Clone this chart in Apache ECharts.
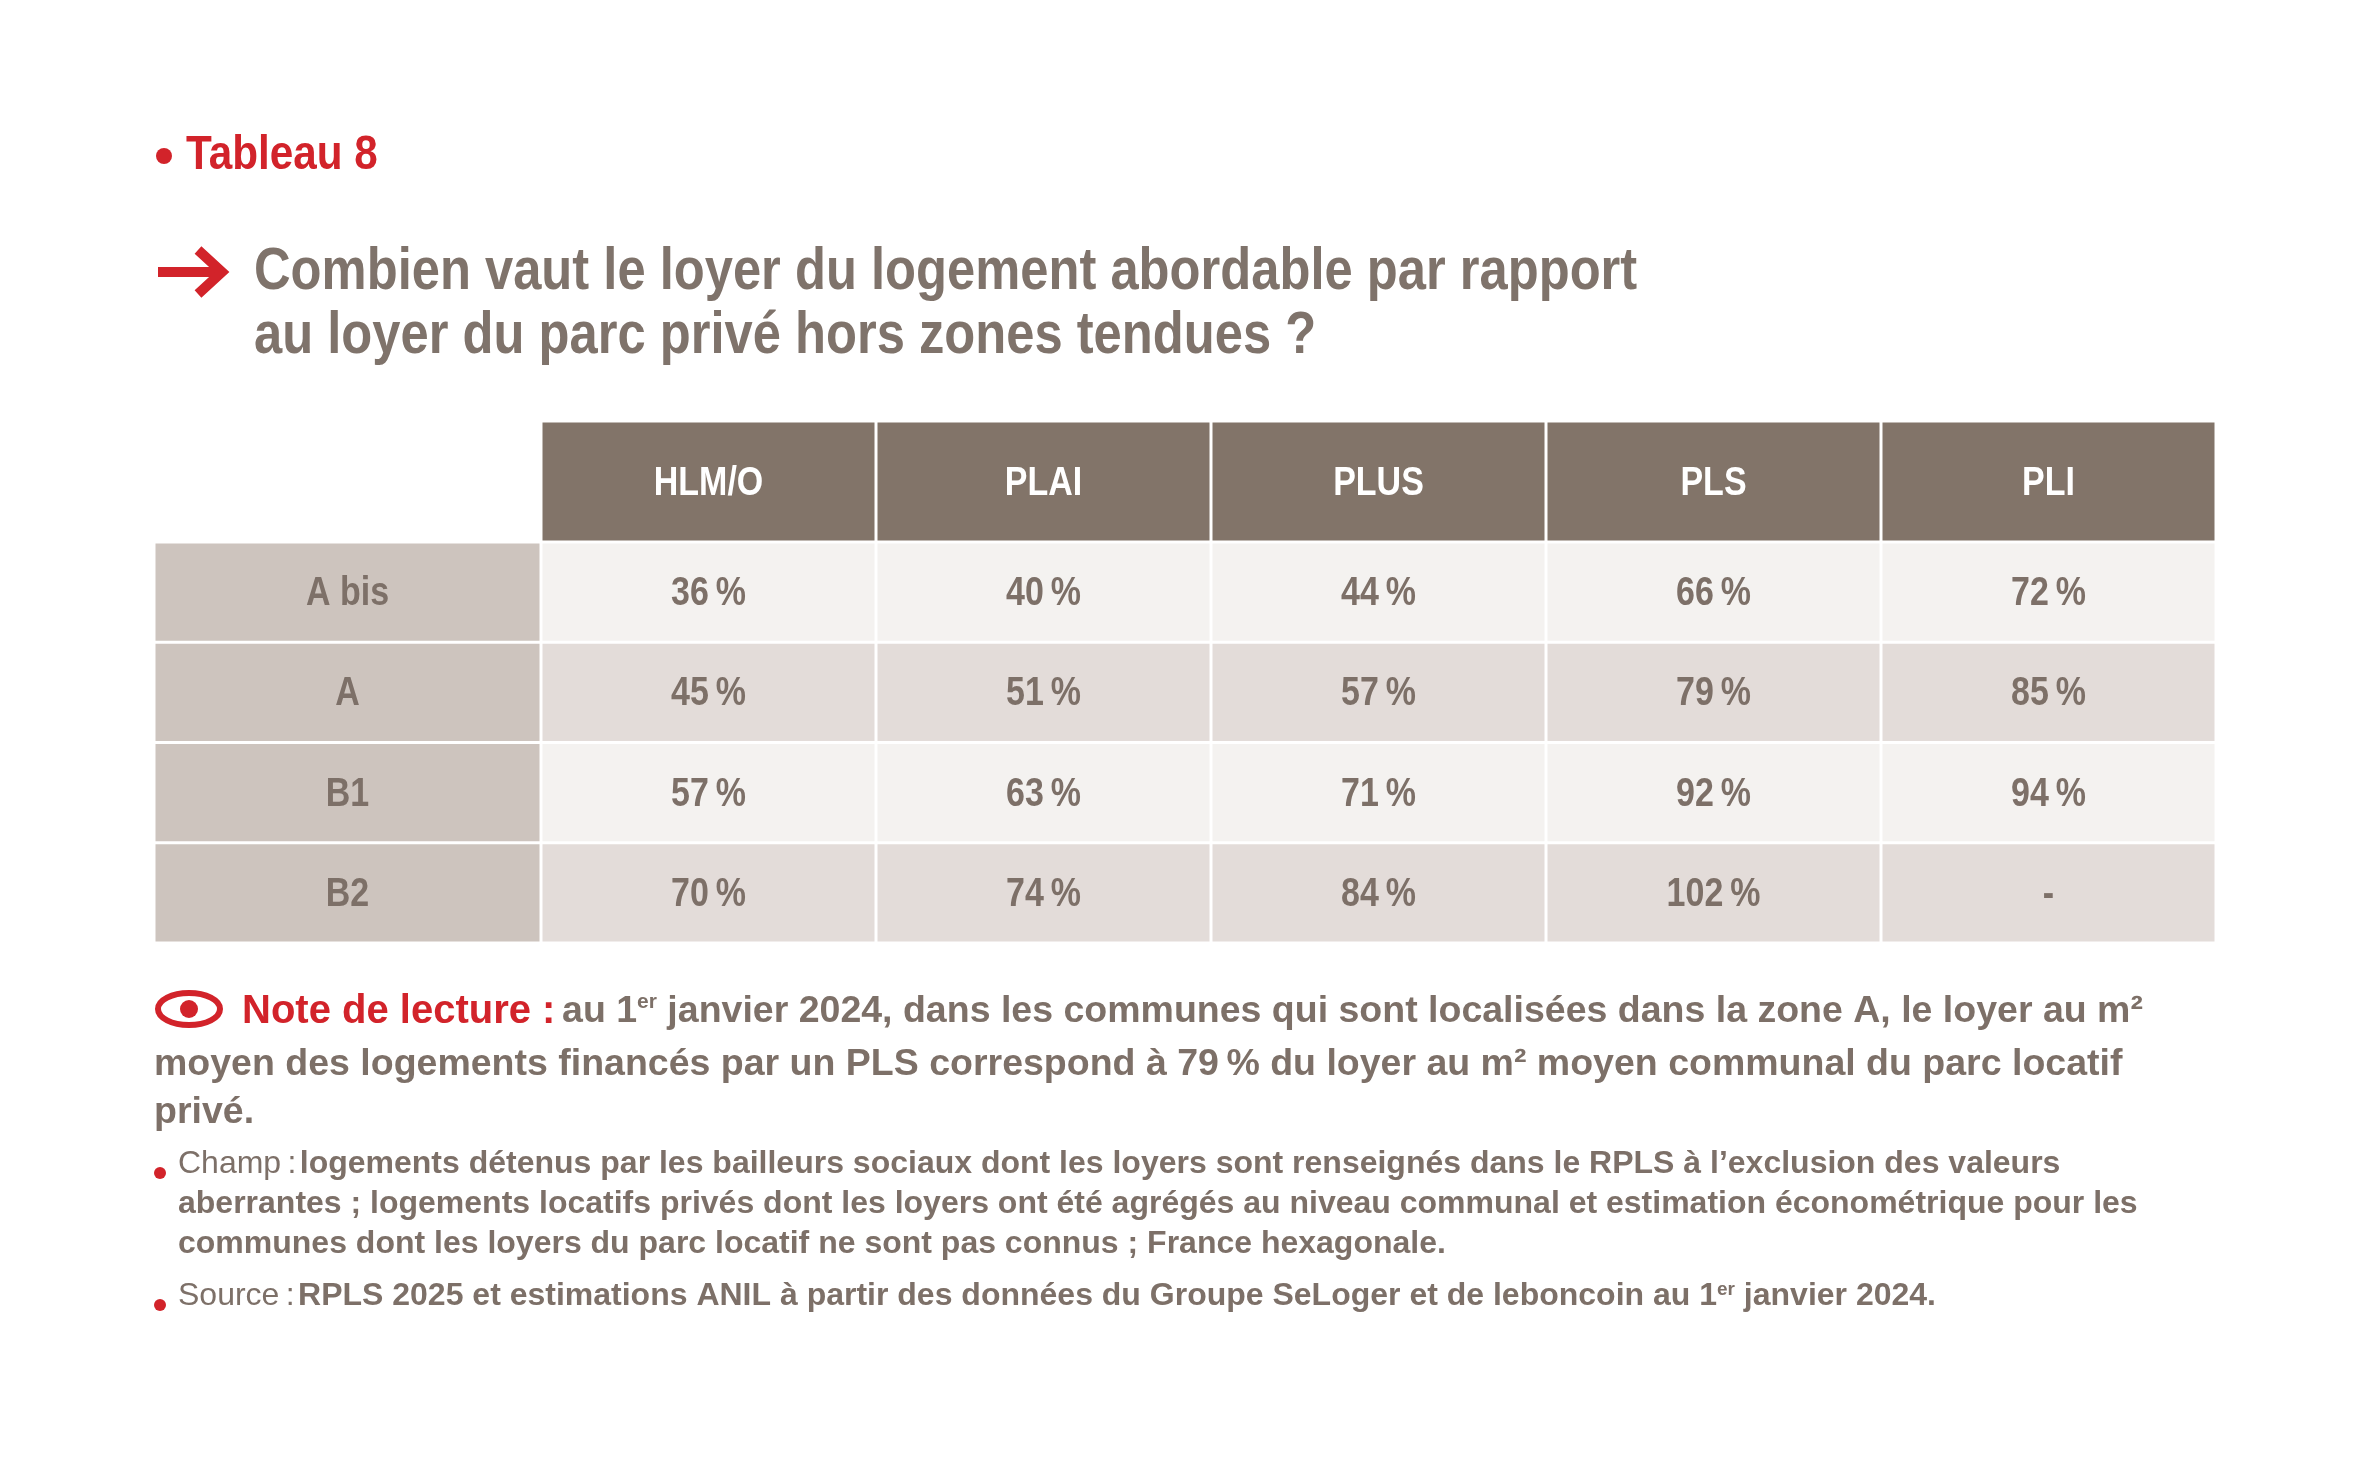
<!DOCTYPE html>
<html><head><meta charset="utf-8">
<script src="https://cdn.jsdelivr.net/npm/echarts@6/dist/echarts.min.js"></script>
<style>html,body{margin:0;background:#fff}#c{width:2356px;height:1468px}</style>
</head><body><div id="c"></div>
<script>
var columns = ['HLM/O', 'PLAI', 'PLUS', 'PLS', 'PLI'];
var zones = ['A bis', 'A', 'B1', 'B2'];
var zoneValues = [
  ['36\u202f%', '40\u202f%', '44\u202f%', '66\u202f%', '72\u202f%'],
  ['45\u202f%', '51\u202f%', '57\u202f%', '79\u202f%', '85\u202f%'],
  ['57\u202f%', '63\u202f%', '71\u202f%', '92\u202f%', '94\u202f%'],
  ['70\u202f%', '74\u202f%', '84\u202f%', '102\u202f%', '-']
];

var red = '#d2232a', ink = '#7d7068', head = '#827469';
var sans = '"Liberation Sans", Helvetica, Arial, sans-serif';

var headerData = columns.map(function (c, i) { return [i, 0, c]; });
var zoneData = zones.map(function (z, j) { return [0, j, z]; });
var valueData = [];
zoneValues.forEach(function (row, j) {
  row.forEach(function (v, i) { valueData.push([i, j, v]); });
});

function cellRenderer(fillFn, color) {
  return function (params, api) {
    var c = api.coord([api.value(0), api.value(1)]);
    var s = api.size([1, 1]);
    var row = api.value(1);
    return {
      type: 'group',
      children: [{
        type: 'rect',
        shape: { x: c[0] - s[0] / 2 + 1.5, y: c[1] - s[1] / 2 + 1.5, width: s[0] - 3, height: s[1] - 3 },
        style: { fill: fillFn(row) }
      }, {
        type: 'text',
        x: c[0], y: c[1] + 2, scaleX: 0.85,
        style: {
          x: 0, y: 0, text: api.value(2), align: 'center', verticalAlign: 'middle',
          font: 'bold 40px ' + sans, fill: color
        }
      }]
    };
  };
}

function hiddenAxis(data, gridIndex, inverse) {
  return { type: 'category', data: data, gridIndex: gridIndex, inverse: !!inverse, show: false };
}

var chart = echarts.init(document.getElementById('c'), null, { renderer: 'canvas' });
chart.setOption({
  animation: false,
  grid: [
    { left: 541, width: 1675, top: 421, height: 121 },
    { left: 154, width: 387, top: 542, height: 401 },
    { left: 541, width: 1675, top: 542, height: 401 }
  ],
  xAxis: [hiddenAxis(columns, 0), hiddenAxis(['zone'], 1), hiddenAxis(columns, 2)],
  yAxis: [hiddenAxis(['head'], 0, true), hiddenAxis(zones, 1, true), hiddenAxis(zones, 2, true)],
  series: [
    { type: 'custom', xAxisIndex: 0, yAxisIndex: 0, data: headerData,
      renderItem: cellRenderer(function () { return head; }, '#ffffff') },
    { type: 'custom', xAxisIndex: 1, yAxisIndex: 1, data: zoneData,
      renderItem: cellRenderer(function () { return '#cdc4be'; }, ink) },
    { type: 'custom', xAxisIndex: 2, yAxisIndex: 2, data: valueData,
      renderItem: cellRenderer(function (r) { return r % 2 ? '#e3dcd9' : '#f4f2f0'; }, ink) }
  ],
  graphic: [
    { type: 'circle', shape: { cx: 164, cy: 156, r: 8 }, style: { fill: red } },
    { type: 'text', x: 186, y: 132, scaleX: 0.88, style: { text: 'Tableau 8', font: 'bold 48px ' + sans, fill: red } },
    { type: 'polyline', shape: { points: [[158, 272], [222, 272]] }, style: { stroke: red, lineWidth: 10, fill: null } },
    { type: 'polyline', shape: { points: [[198, 250], [222, 272], [198, 294]] }, style: { stroke: red, lineWidth: 10, fill: null, lineJoin: 'miter' } },
    { type: 'text', x: 254, y: 240, scaleX: 0.845, style: {
      text: 'Combien vaut le loyer du logement abordable par rapport\nau loyer du parc privé hors zones tendues ?',
      font: 'bold 60px ' + sans, fill: '#7f736b', lineHeight: 64 } },
    // eye icon
    { type: 'ellipse', shape: { cx: 189, cy: 1009, rx: 31, ry: 16 }, style: { fill: null, stroke: red, lineWidth: 6 } },
    { type: 'circle', shape: { cx: 189, cy: 1009, r: 9 }, style: { fill: red } },
    { type: 'text', x: 242, y: 992, style: {
      text: '{r|Note de lecture :}  {g|au 1}{s|er}{g| janvier 2024, dans les communes qui sont localisées dans la zone A, le loyer au m²}',
      rich: {
        r: { font: 'bold 40px ' + sans, fill: red, scaleX: 0.85 },
        g: { font: 'bold 37.5px ' + sans, fill: ink },
        s: { font: 'bold 21px ' + sans, fill: ink, verticalAlign: 'top', padding: [0, 0, 16, 0] }
      } } },
    { type: 'text', left: 154, top: 1041, style: {
      text: 'moyen des logements financés par un PLS correspond à 79\u202f% du loyer au m² moyen communal du parc locatif\nprivé.',
      font: 'bold 37.5px ' + sans, fill: ink, lineHeight: 48 } },
    { type: 'circle', shape: { cx: 160, cy: 1173, r: 6 }, style: { fill: red } },
    { type: 'text', left: 178, top: 1148, style: {
      text: '{n|Champ\u202f:} {b|logements détenus par les bailleurs sociaux dont les loyers sont renseignés dans le RPLS à l’exclusion des valeurs}\n{b|aberrantes ; logements locatifs privés dont les loyers ont été agrégés au niveau communal et estimation économétrique pour les}\n{b|communes dont les loyers du parc locatif ne sont pas connus ; France hexagonale.}',
      rich: {
        n: { font: '32px ' + sans, fill: ink, lineHeight: 40 },
        b: { font: 'bold 32px ' + sans, fill: ink, lineHeight: 40 }
      } } },
    { type: 'circle', shape: { cx: 160, cy: 1305, r: 6 }, style: { fill: red } },
    { type: 'text', left: 178, top: 1280, style: {
      text: '{n|Source\u202f:} {b|RPLS 2025 et estimations ANIL à partir des données du Groupe SeLoger et de leboncoin au 1}{s|er}{b| janvier 2024.}',
      rich: {
        n: { font: '32px ' + sans, fill: ink },
        b: { font: 'bold 32px ' + sans, fill: ink },
        s: { font: 'bold 19px ' + sans, fill: ink, verticalAlign: 'top', padding: [0, 0, 12, 0] }
      } } }
  ]
});
</script></body></html>
